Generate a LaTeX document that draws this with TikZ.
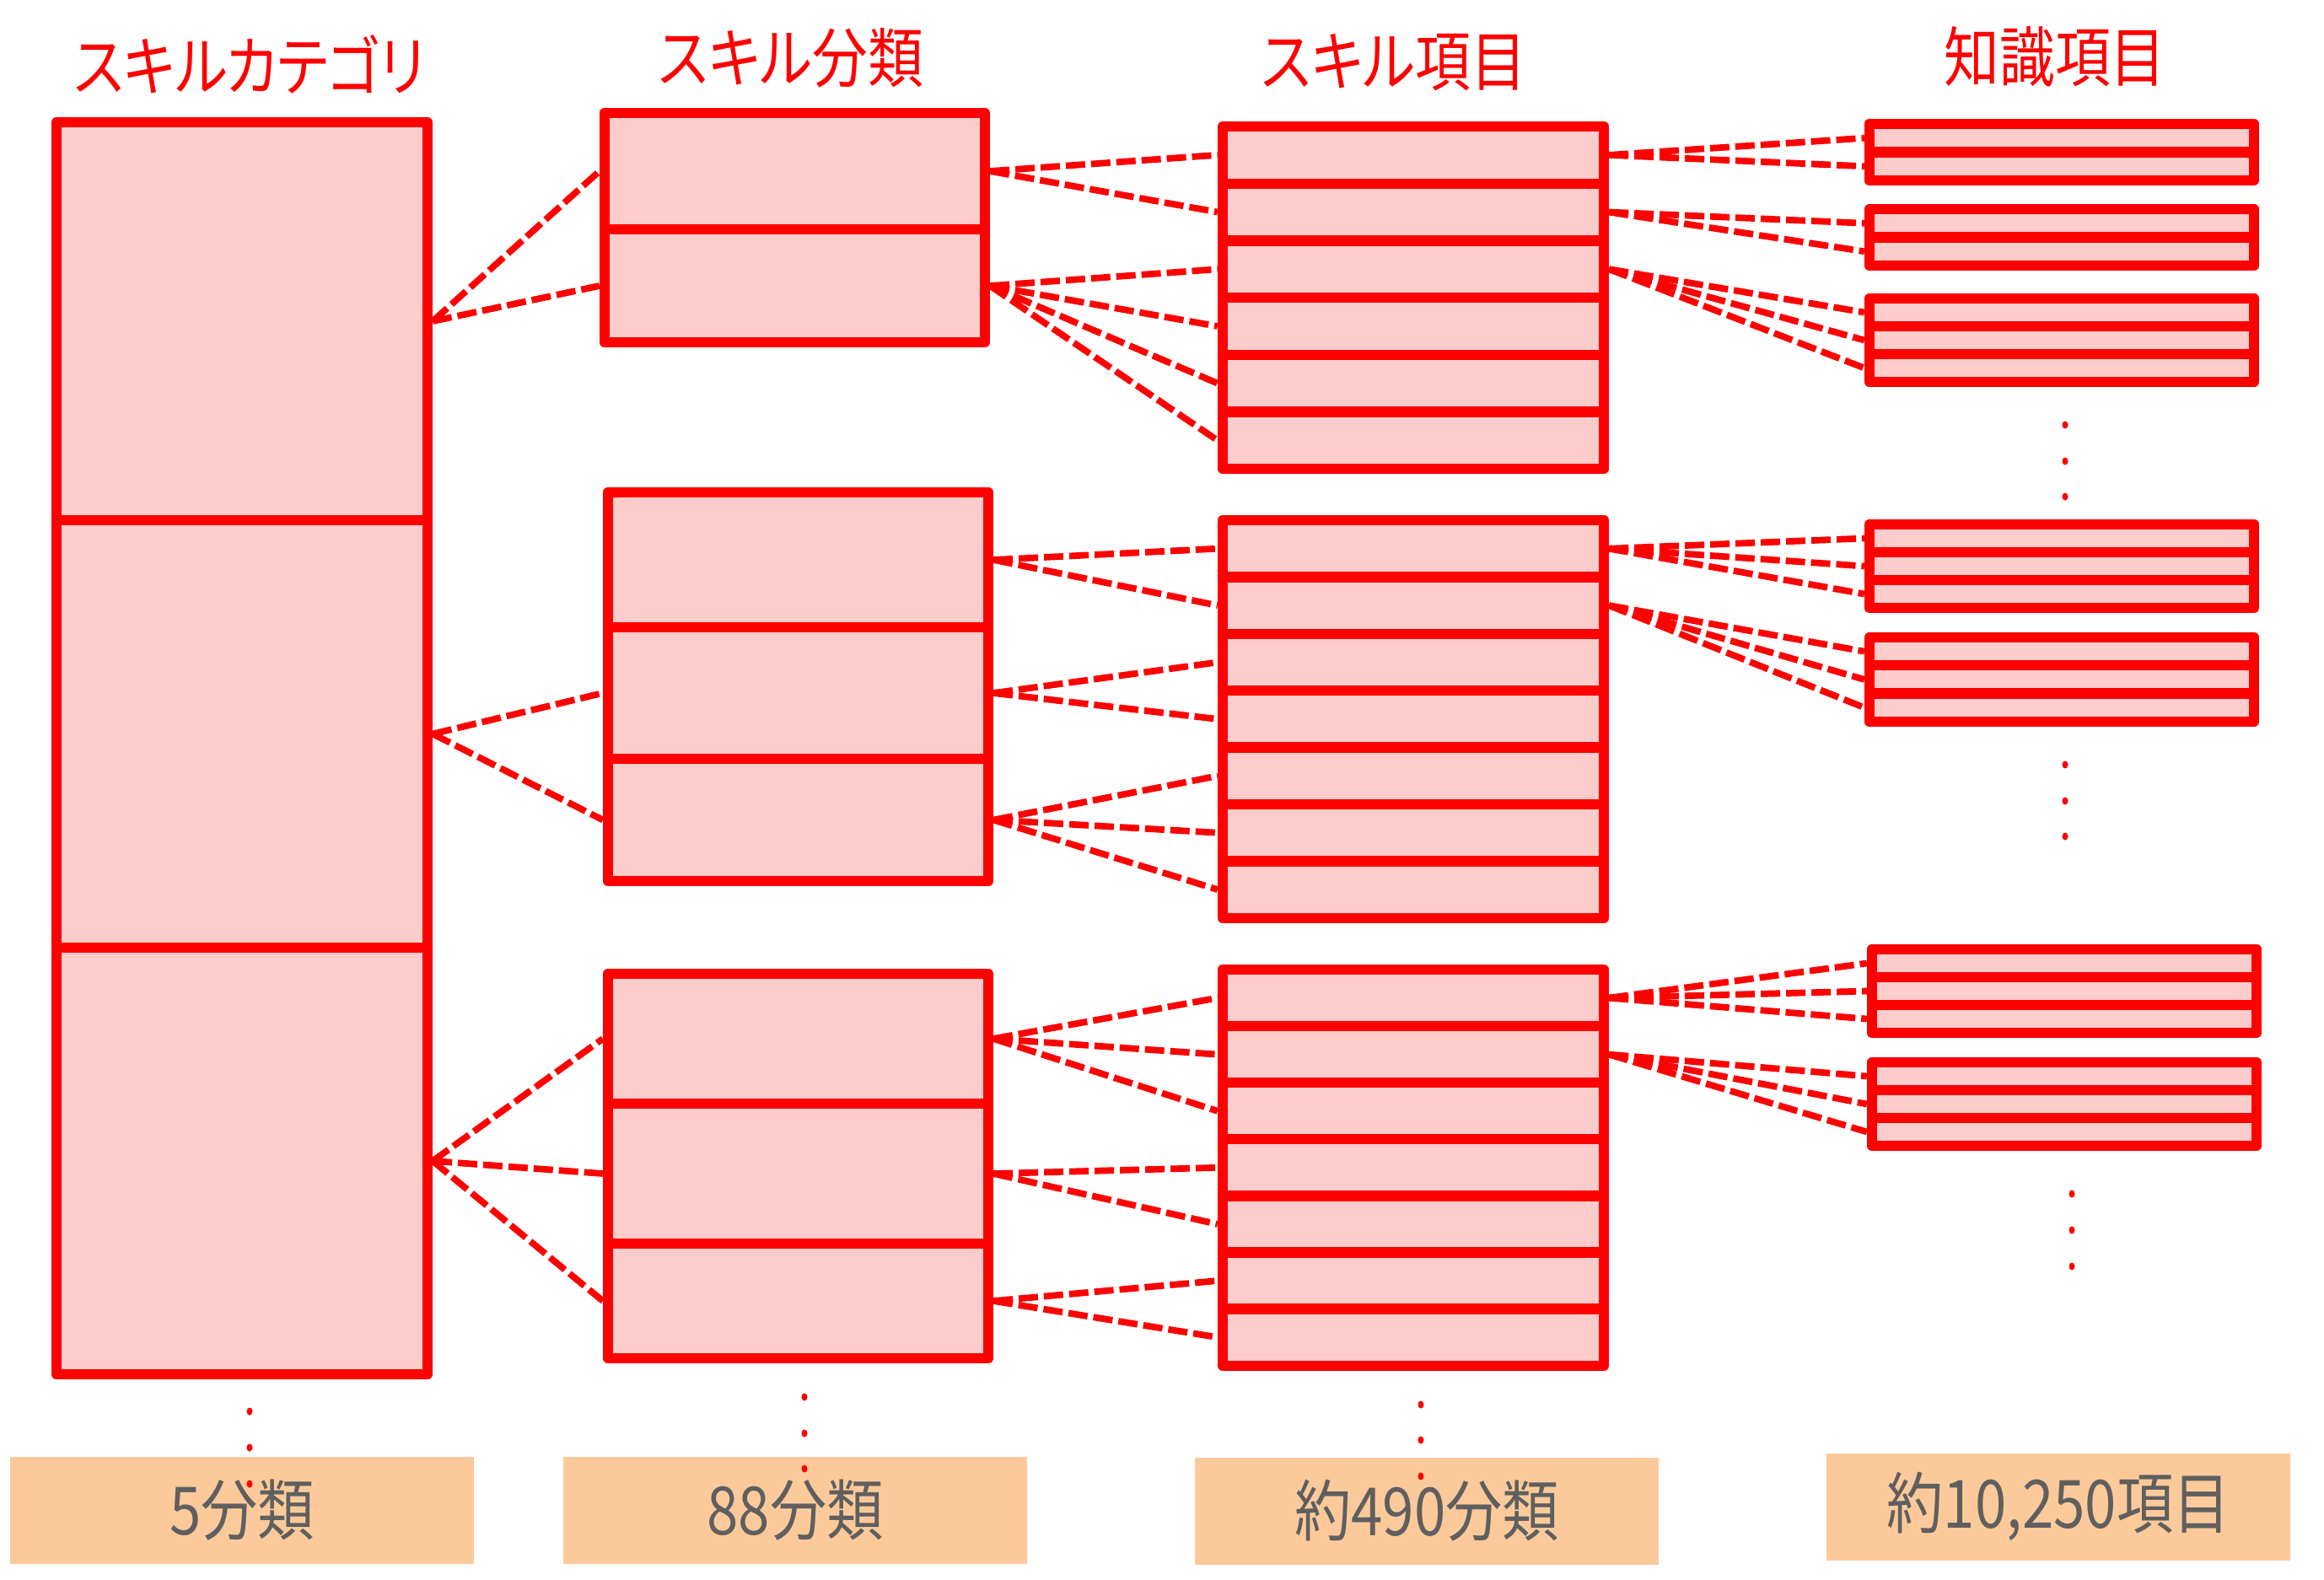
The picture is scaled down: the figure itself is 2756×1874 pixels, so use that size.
\documentclass[tikz,border=0pt]{standalone}
\usepackage{fontspec}
\newfontfamily\jpfont[FakeStretch=0.85,RawFeature={+palt}]{Noto Sans CJK JP}
\usepackage{xcolor}
\usepackage{tikz}
\usetikzlibrary{fit}
\definecolor{linered}{RGB}{255,0,0}
\definecolor{cellfill}{RGB}{255,204,204}
\definecolor{countfill}{RGB}{252,202,154}
\definecolor{countgray}{RGB}{95,95,95}

% name, left, right, top, row height, rows
\newcommand{\cellstack}[6]{%
  \foreach \i in {1,...,#6}
    \node[cell, fit={(#2,{#4+(\i-1)*#5}) (#3,{#4+\i*#5})}] (#1-\i) {};
}

\begin{document}
\begin{tikzpicture}[x=0.1mm, y=-0.1mm,
  cell/.style={draw=linered, fill=cellfill, line width=3.5pt, line join=round, inner sep=0pt},
  link/.style={draw=linered, line width=2.2pt, dash pattern=on 2.3mm off 0.7mm},
  title/.style={text=linered, font=\jpfont\fontsize{22}{24}\selectfont},
  count/.style={fill=countfill, text=countgray, minimum width=55mm, minimum height=12.7mm, font=\jpfont\fontsize{22.5}{24}\selectfont}]
\useasboundingbox (0,0) rectangle (2756,1874);

% Titles
\node[title] (catTitle) at (296,76) {スキルカテゴリ};
\node[title] (clsTitle) at (938,69) {スキル分類};
\node[title] (itmTitle) at (1653,74) {スキル項目};
\node[title] (knoTitle) at (2437,67) {知識項目};

% Nodes
\foreach \i/\t/\b in {1/145/617, 2/617/1124, 3/1124/1630}
  \node[cell, fit={(67,\t) (507,\b)}] (cat-\i) {};

\foreach \i/\t/\b in {1/134/272, 2/272/406}
  \node[cell, fit={(717,\t) (1168,\b)}] (cls1-\i) {};
\foreach \i/\t/\b in {1/584/744, 2/744/900, 3/900/1045}
  \node[cell, fit={(721,\t) (1172,\b)}] (cls2-\i) {};
\foreach \i/\t/\b in {1/1155/1309, 2/1309/1475, 3/1475/1611}
  \node[cell, fit={(721,\t) (1172,\b)}] (cls3-\i) {};

\cellstack{itm1}{1450}{1902}{150}{67.7}{6}
\cellstack{itm2}{1450}{1902}{617}{67.4}{7}
\cellstack{itm3}{1450}{1902}{1150}{67.1}{7}

\cellstack{kno1}{2217}{2673}{147}{33.5}{2}
\cellstack{kno2}{2217}{2673}{248}{33.5}{2}
\cellstack{kno3}{2217}{2673}{354}{33}{3}
\cellstack{kno4}{2217}{2673}{622}{33}{3}
\cellstack{kno5}{2217}{2673}{756}{33.3}{3}
\cellstack{kno6}{2220}{2676}{1126}{33}{3}
\cellstack{kno7}{2220}{2676}{1260}{33}{3}

% Links
\foreach \a/\b in {cat-1/cls1-1, cat-1/cls1-2, cat-2/cls2-2, cat-2/cls2-3,
    cat-3/cls3-1, cat-3/cls3-2, cat-3/cls3-3,
    cls1-1/itm1-1, cls1-1/itm1-2, cls1-2/itm1-3, cls1-2/itm1-4, cls1-2/itm1-5, cls1-2/itm1-6,
    cls2-1/itm2-1, cls2-1/itm2-2, cls2-2/itm2-3, cls2-2/itm2-4,
    cls2-3/itm2-5, cls2-3/itm2-6, cls2-3/itm2-7,
    cls3-1/itm3-1, cls3-1/itm3-2, cls3-1/itm3-3, cls3-2/itm3-4, cls3-2/itm3-5,
    cls3-3/itm3-6, cls3-3/itm3-7,
    itm1-1/kno1-1, itm1-1/kno1-2, itm1-2/kno2-1, itm1-2/kno2-2,
    itm1-3/kno3-1, itm1-3/kno3-2, itm1-3/kno3-3,
    itm2-1/kno4-1, itm2-1/kno4-2, itm2-1/kno4-3,
    itm2-2/kno5-1, itm2-2/kno5-2, itm2-2/kno5-3,
    itm3-1/kno6-1, itm3-1/kno6-2, itm3-1/kno6-3,
    itm3-2/kno7-1, itm3-2/kno7-2, itm3-2/kno7-3}
  \draw[link] (\a.east) -- (\b.west);

% Counts
\node[count] (catCount) at (287,1791) {5分類};
\node[count] (clsCount) at (943,1791) {88分類};
\node[count] (itmCount) at (1692,1792) {約490分類};
\node[count] (knoCount) at (2441,1787) {約10,250項目};

% Dots
\foreach \x/\y in {296/1674, 296/1717, 296/1760, 954/1657, 954/1700, 954/1742,
    1685/1666, 1685/1708, 1685/1751, 2449/504, 2449/547, 2449/589,
    2449/907, 2449/950, 2449/992, 2457/1416, 2457/1459, 2457/1502}
  \fill[linered] (\x,\y) ellipse [x radius=0.35mm, y radius=0.45mm];
\end{tikzpicture}
\end{document}
